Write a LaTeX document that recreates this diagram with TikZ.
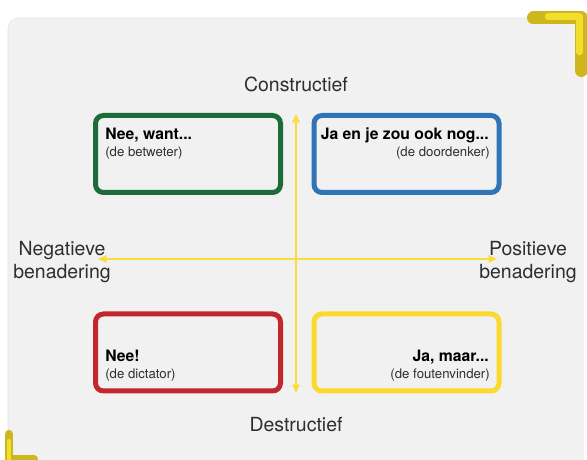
\documentclass[tikz,border=0pt]{standalone}
\usepackage{fontspec}
\setmainfont{TeX Gyre Heros}
\usepackage{xcolor}
\usepackage{tikz}
\usetikzlibrary{calc}
\usetikzlibrary{arrows.meta}
\usetikzlibrary{positioning}

\definecolor{panel}{HTML}{F1F1F1}
\definecolor{rim}{HTML}{E3E3E3}
\definecolor{gold}{HTML}{CDB61E}
\definecolor{goldlight}{HTML}{F4DE2C}
\definecolor{axisyellow}{HTML}{FCDC3A}
\definecolor{bgreen}{HTML}{1E6B3A}
\definecolor{bblue}{HTML}{2F74B6}
\definecolor{bred}{HTML}{C1272D}
\definecolor{byellow}{HTML}{FDD92E}
\definecolor{ink}{HTML}{2E2E2E}

\tikzset{
 quad/.style={rectangle, draw=#1, line width=3.75pt, rounded corners=6pt, minimum width=138.75pt, minimum height=57.75pt, inner sep=0pt},
 head/.style={font=\fontsize{11.8}{14}\selectfont\bfseries, text=black, inner sep=0pt},
 role/.style={font=\fontsize{9.9}{12}\selectfont, text=ink, inner sep=0pt},
 pole/.style={font=\fontsize{14.6}{17.3}\selectfont, text=ink, align=center, inner sep=0pt},
 axis/.style={{Latex[length=7pt,width=6.5pt]}-{Latex[length=7pt,width=6.5pt]}, draw=axisyellow, line width=1.9pt},
 bracket/.style={draw=#1, line width=9.75pt, line cap=round, line join=round},
 bracket/.default=gold
}

\begin{document}
\begin{tikzpicture}[x=0.75pt, y=-0.75pt]
 \useasboundingbox (0,0) rectangle (587,460);
 \clip (0,0) rectangle (587,460);
 \filldraw [fill=panel, draw=rim, rounded corners=8pt] (8,18) rectangle (583,485);
 \draw [bracket] (533.5,18) -- (581,18) -- (581,70.5);
 \draw [bracket=goldlight, line width=5pt] (548,16.5) -- (579.5,16.5) -- (579.5,52);
 \draw [bracket, line width=6pt] (9,434) -- (9,459) -- (34,459);
 \draw [bracket=goldlight, line width=3pt] (8.5,441) -- (8.5,460);

 \node [quad=bgreen] (betweter) at (188,154) {};
 \node [quad=bblue] (doordenker) at (406.5,154) {};
 \node [quad=bred] (dictator) at (188,352.5) {};
 \node [quad=byellow] (foutenvinder) at (406.5,352.5) {};

 \node [head, anchor=base west] (want) at (105,140) {Nee, want...};
 \node [role, anchor=base west] (betweterrol) at (105,157) {(de betweter)};
 \node [head, anchor=base east] (nog) at (489,140) {Ja en je zou ook nog...};
 \node [role, anchor=base east] (doordenkerrol) at (490,157) {(de doordenker)};
 \node [head, anchor=base west] (nee) at (105,362) {Nee!};
 \node [role, anchor=base west] (dictatorrol) at (105,379) {(de dictator)};
 \node [head, anchor=base east] (maar) at (489,362) {Ja, maar...};
 \node [role, anchor=base east] (foutenvinderrol) at (490,379) {(de foutenvinder)};

 \node [pole, anchor=base] (constructief) at (296,92) {Constructief};
 \node [pole, anchor=base] (destructief) at (296,432) {Destructief};
 \node [pole] (negatief) at (62,262) {Negatieve\\benadering};
 \node [pole] (positief) at (528,262) {Positieve\\benadering};

 \coordinate (con) at (296,113);
 \coordinate (des) at (296,394);
 \coordinate (neg) at (97,259);
 \coordinate (pos) at (498,259);
 \draw [axis] (des) to (con);
 \draw [axis] (neg) to (pos);
\end{tikzpicture}
\end{document}
